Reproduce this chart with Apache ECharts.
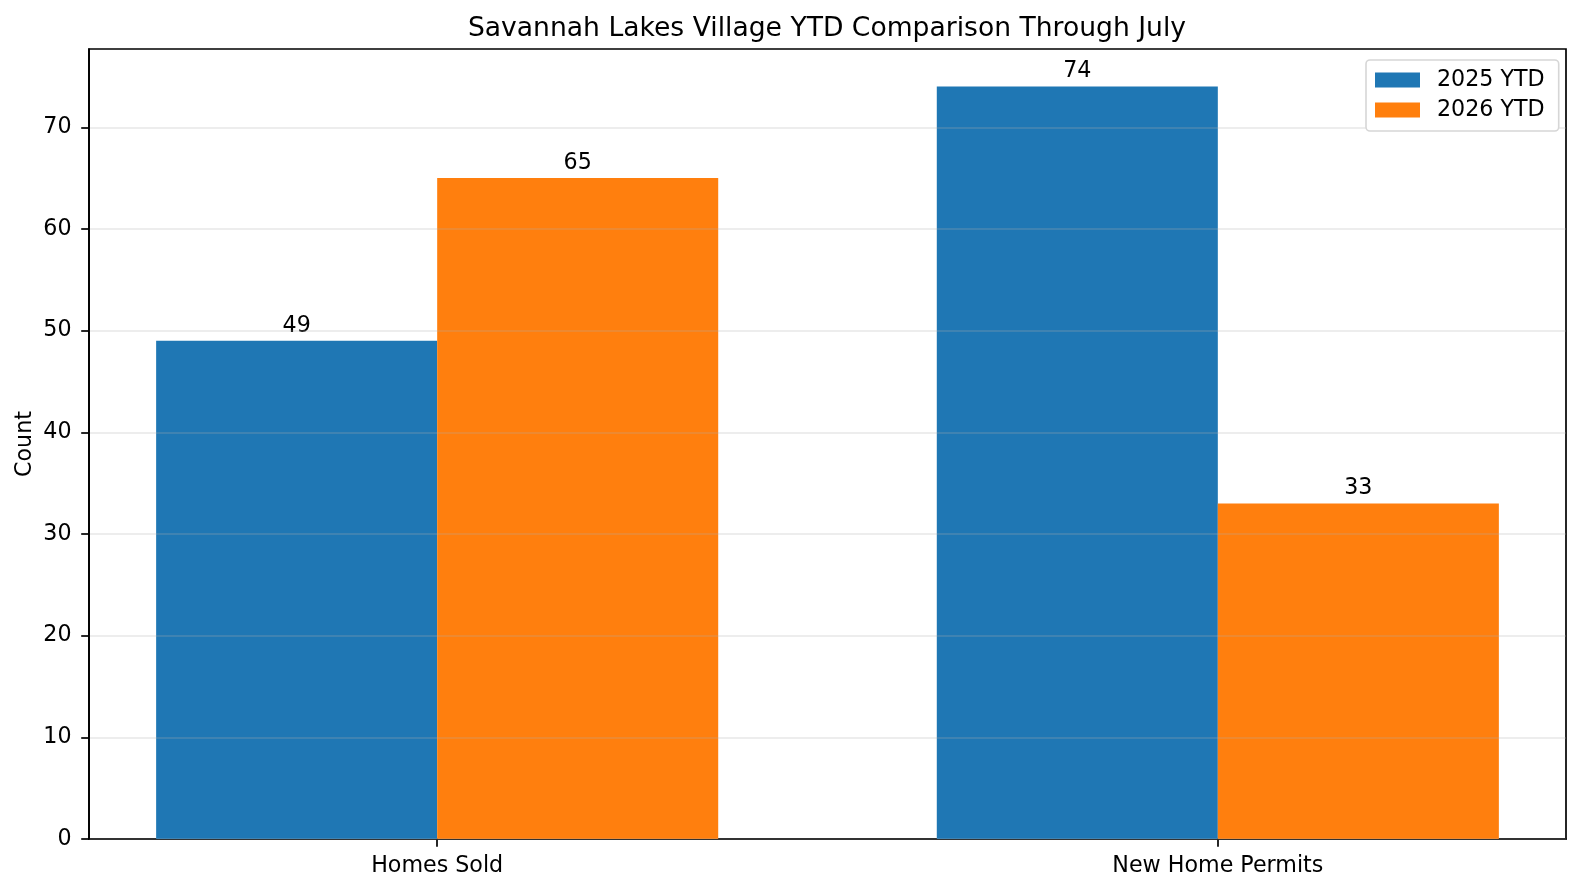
<!DOCTYPE html>
<html>
<head>
<meta charset="utf-8">
<script src="https://cdn.jsdelivr.net/npm/echarts@6/dist/echarts.min.js"></script>
<style>
html,body{margin:0;padding:0;background:#fff;}
#chart{width:1581px;height:891px;}
</style>
</head>
<body>
<div id="chart"></div>
<script>
const categories = ['Homes Sold', 'New Home Permits'];
const seriesNames = ['2025 YTD', '2026 YTD'];
const values2025 = [49, 74];
const values2026 = [65, 33];
const yTicks = [0, 10, 20, 30, 40, 50, 60, 70];

const FONT = 'DejaVu Sans';
const FS = 22.2;
const BAR_W = 0.36;
const colors = ['#1f77b4', '#ff7f0e'];

function makeSeries(name, values, offset, color) {
  return {
    name: name,
    type: 'custom',
    itemStyle: { color: color },
    z: 2,
    data: values.map((v, i) => [i, v]),
    encode: { x: 0, y: 1 },
    renderItem: function (params, api) {
      const xi = api.value(0);
      const v = api.value(1);
      const left = api.coord([xi + offset, v]);
      const right = api.coord([xi + offset + BAR_W, 0]);
      return {
        type: 'rect',
        shape: { x: left[0], y: left[1], width: right[0] - left[0], height: right[1] - left[1] },
        style: { fill: color },
        textContent: {
          style: { text: String(v), fill: '#000', fontFamily: FONT, fontSize: FS }
        },
        textConfig: { position: 'top', distance: 4 }
      };
    }
  };
}

const chart = echarts.init(document.getElementById('chart'), null, { renderer: 'canvas' });
chart.setOption({
  backgroundColor: '#fff',
  animation: false,
  title: {
    text: 'Savannah Lakes Village YTD Comparison Through July',
    left: 827,
    textAlign: 'center',
    top: 16,
    padding: 0,
    textStyle: { fontFamily: FONT, fontSize: 26.6, fontWeight: 'normal', color: '#000' }
  },
  legend: {
    orient: 'vertical',
    left: 1366,
    top: 60,
    padding: [9, 14, 10, 9],
    itemWidth: 45,
    itemHeight: 15,
    itemGap: 8,
    icon: 'rect',
    backgroundColor: '#fff',
    borderColor: '#d6d6d6',
    borderWidth: 1.6,
    borderRadius: 4,
    data: seriesNames,
    textStyle: { fontFamily: FONT, fontSize: FS, color: '#000', padding: [0, 0, 0, 12] }
  },
  grid: {
    left: 89, right: 15, top: 49, bottom: 52,
    show: true, borderColor: '#000', borderWidth: 1.7, backgroundColor: 'transparent'
  },
  xAxis: {
    type: 'value',
    min: -0.446,
    max: 1.446,
    splitLine: { show: false },
    axisLine: { show: true, onZero: false, lineStyle: { color: '#000', width: 1.7 } },
    axisTick: { show: true, length: 7.8, lineStyle: { color: '#000', width: 1.7 }, customValues: [0, 1] },
    axisLabel: {
      customValues: [0, 1],
      formatter: function (v) { return categories[Math.round(v)]; },
      margin: 16,
      fontFamily: FONT, fontSize: FS, color: '#000'
    }
  },
  yAxis: {
    type: 'value',
    min: 0,
    max: 77.7,
    z: 3,
    name: 'Count',
    nameLocation: 'middle',
    nameGap: 53,
    nameMoveOverlap: false,
    nameTextStyle: { fontFamily: FONT, fontSize: FS, color: '#000' },
    axisLine: { show: true, onZero: false, lineStyle: { color: '#000', width: 1.7 } },
    axisTick: { show: true, length: 7.8, lineStyle: { color: '#000', width: 1.7 }, customValues: yTicks },
    axisLabel: {
      customValues: yTicks,
      margin: 17.5,
      fontFamily: FONT, fontSize: FS, color: '#000'
    },
    splitLine: { show: true, lineStyle: { color: 'rgba(176,176,176,0.3)', width: 1.7 } }
  },
  series: [
    makeSeries(seriesNames[0], values2025, -BAR_W, colors[0]),
    makeSeries(seriesNames[1], values2026, 0, colors[1])
  ]
});
</script>
</body>
</html>
